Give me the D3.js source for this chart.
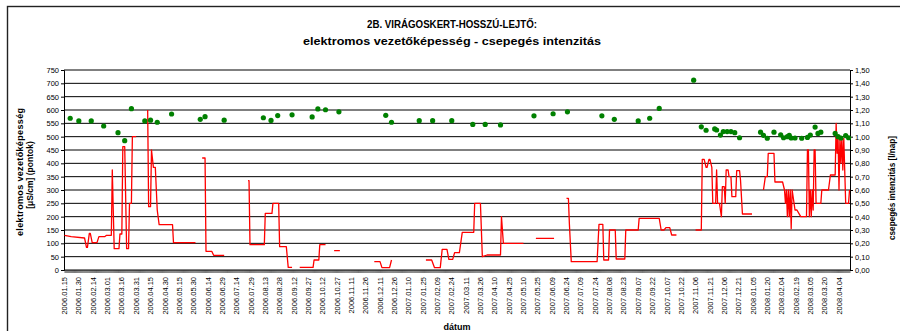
<!DOCTYPE html>
<html>
<head>
<meta charset="utf-8">
<script src="https://cdn.jsdelivr.net/npm/d3@7"></script>
<style>
  body { margin: 0; background: #fff; }
  svg { display: block; font-family: Arial, "Liberation Sans", sans-serif; }
</style>
</head>
<body>
<svg id="chart" width="900" height="331"></svg>
<script>
// ---- text ----
const titleLines = ["2B. VIRÁGOSKERT-HOSSZÚ-LEJTŐ:", "elektromos vezetőképesség - csepegés intenzitás"];
const leftTitleLines = ["elektromos vezetőképesség", "[μS/cm] (pontok)"];
const rightTitle = "csepegés intenzitás [l/nap]";
const xTitle = "dátum";

// ---- axes ----
const axisFirstDay = "2006.01.15";
const axisLastDay = "2008.04.15";
const leftTickValues = [0, 50, 100, 150, 200, 250, 300, 350, 400, 450, 500, 550, 600, 650, 700, 750];
const rightTickValues = [0, 0.1, 0.2, 0.3, 0.4, 0.5, 0.6, 0.7, 0.8, 0.9, 1.0, 1.1, 1.2, 1.3, 1.4, 1.5];
const xTickLabels = [
  "2006.01.15","2006.01.30","2006.02.14","2006.03.01","2006.03.16","2006.03.31","2006.04.15","2006.04.30",
  "2006.05.15","2006.05.30","2006.06.14","2006.06.29","2006.07.14","2006.07.29","2006.08.13","2006.08.28",
  "2006.09.12","2006.09.27","2006.10.12","2006.10.27","2006.11.11","2006.11.26","2006.12.11","2006.12.26",
  "2007.01.10","2007.01.25","2007.02.09","2007.02.24","2007.03.11","2007.03.26","2007.04.10","2007.04.25",
  "2007.05.10","2007.05.25","2007.06.09","2007.06.24","2007.07.09","2007.07.24","2007.08.08","2007.08.23",
  "2007.09.07","2007.09.22","2007.10.07","2007.10.22","2007.11.06","2007.11.21","2007.12.06","2007.12.21",
  "2008.01.05","2008.01.20","2008.02.04","2008.02.19","2008.03.05","2008.03.20","2008.04.04"
];

// ---- electrical conductivity, µS/cm (points, left axis) ----
const conductivityDates = [
  "2006.01.21","2006.01.30","2006.02.12","2006.02.25","2006.03.12","2006.03.19","2006.03.26","2006.04.09","2006.04.15","2006.04.22",
  "2006.05.07","2006.06.06","2006.06.11","2006.07.01","2006.08.11","2006.08.19","2006.08.26","2006.09.10","2006.10.01","2006.10.07",
  "2006.10.15","2006.10.29","2006.12.17","2006.12.23",
  "2007.01.21","2007.02.04","2007.02.24","2007.03.18","2007.03.31","2007.04.16",
  "2007.05.21","2007.06.10","2007.06.25","2007.07.31","2007.08.13","2007.09.07","2007.09.19","2007.09.29",
  "2007.11.04","2007.11.12","2007.11.17","2007.11.26","2007.11.28","2007.12.02","2007.12.05","2007.12.09","2007.12.13","2007.12.17","2007.12.22",
  "2008.01.13","2008.01.16","2008.01.20","2008.01.27",
  "2008.02.03","2008.02.06","2008.02.10","2008.02.12","2008.02.14","2008.02.18","2008.02.25",
  "2008.03.02","2008.03.05","2008.03.10","2008.03.13","2008.03.16","2008.03.31",
  "2008.04.03","2008.04.06","2008.04.11","2008.04.14"
];
const conductivityValues = [
  569, 559, 559, 540, 515, 485, 605, 559, 562, 554,
  585, 565, 575, 562, 571, 561, 579, 582, 574, 604,
  601, 593, 580, 554,
  560, 560, 560, 546, 546, 544,
  578, 586, 593, 578, 565, 559, 569, 606,
  712, 537, 524, 529, 525, 506, 519, 519, 519, 515, 496,
  517, 505, 494, 517,
  507, 496, 500, 505, 495, 495, 494,
  497, 506, 536, 512, 517, 512,
  500, 495, 504, 496
];

// ---- drip intensity, l/day (line, right axis); null = no measurement ----
const dripDates = [
  "2006.01.15","2006.01.22","2006.02.05","2006.02.07","2006.02.08","2006.02.10","2006.02.11","2006.02.13","2006.02.18","2006.02.20",
  "2006.02.26","2006.02.28","2006.03.05","2006.03.06","2006.03.08","2006.03.13","2006.03.14","2006.03.16","2006.03.17","2006.03.19",
  "2006.03.21","2006.03.23","2006.03.24","2006.03.26","2006.03.27","2006.03.31", null,
  "2006.04.12","2006.04.13","2006.04.15","2006.04.16","2006.04.18","2006.04.20","2006.04.22","2006.04.24","2006.05.08","2006.05.09","2006.06.01", null,
  "2006.06.08","2006.06.11","2006.06.12","2006.06.18","2006.06.20","2006.07.01", null,
  "2006.07.26","2006.07.27","2006.07.28","2006.08.12","2006.08.13","2006.08.20","2006.08.21","2006.08.27","2006.08.28","2006.09.04","2006.09.06","2006.09.10", null,
  "2006.09.18","2006.10.02","2006.10.03","2006.10.08","2006.10.09","2006.10.15", null,
  "2006.10.24","2006.10.30", null,
  "2006.12.05","2006.12.11","2006.12.13","2006.12.21","2006.12.23", null,
  "2007.01.28","2007.02.03","2007.02.06","2007.02.12","2007.02.14","2007.02.19","2007.02.21","2007.02.25","2007.02.27","2007.03.04",
  "2007.03.07","2007.03.19","2007.03.20","2007.03.26","2007.03.28","2007.04.02","2007.04.16","2007.04.17","2007.04.19","2007.05.10", null,
  "2007.05.23","2007.06.11", null,
  "2007.06.24","2007.06.26","2007.06.27","2007.06.29","2007.07.26","2007.07.28","2007.08.01","2007.08.02","2007.08.07","2007.08.08",
  "2007.08.14","2007.08.15","2007.08.24","2007.08.25","2007.09.07","2007.09.08","2007.09.29","2007.10.01","2007.10.04","2007.10.06",
  "2007.10.10","2007.10.12","2007.10.17", null,
  "2007.11.06","2007.11.12","2007.11.13","2007.11.15","2007.11.17","2007.11.18","2007.11.20","2007.11.21","2007.11.23","2007.11.24",
  "2007.11.27","2007.11.28","2007.11.29","2007.12.01","2007.12.03","2007.12.04","2007.12.06","2007.12.07","2007.12.08","2007.12.10",
  "2007.12.11","2007.12.13","2007.12.14","2007.12.18","2007.12.19","2007.12.22","2007.12.23","2007.12.25","2008.01.04", null,
  "2008.01.16","2008.01.18","2008.01.20","2008.01.21","2008.01.27","2008.01.28","2008.02.05","2008.02.07","2008.02.08","2008.02.09",
  "2008.02.10","2008.02.11","2008.02.12","2008.02.13","2008.02.14","2008.02.15","2008.02.17","2008.02.18","2008.02.20","2008.02.22",
  "2008.02.24","2008.03.01","2008.03.02","2008.03.03","2008.03.04","2008.03.05","2008.03.06","2008.03.07","2008.03.08","2008.03.09",
  "2008.03.10","2008.03.11","2008.03.16","2008.03.17","2008.03.24","2008.03.26","2008.03.31","2008.04.01","2008.04.02","2008.04.03",
  "2008.04.04","2008.04.05","2008.04.06","2008.04.07","2008.04.08","2008.04.09","2008.04.11","2008.04.14","2008.04.15"
];
const dripValues = [
  0.26, 0.25, 0.24, 0.17, 0.17, 0.275, 0.275, 0.205, 0.205, 0.25,
  0.25, 0.26, 0.26, 0.75, 0.16, 0.16, 0.27, 0.27, 0.925, 0.925,
  0.16, 0.16, 0.5, 0.5, 1.0, 1.0, null,
  1.2, 0.475, 0.475, 0.9, 0.77, 0.77, 0.45, 0.34, 0.34, 0.205, 0.205, null,
  0.84, 0.84, 0.14, 0.14, 0.11, 0.11, null,
  0.67, 0.67, 0.19, 0.19, 0.425, 0.425, 0.5, 0.5, 0.175, 0.175, 0.02, 0.02, null,
  0.02, 0.02, 0.075, 0.075, 0.19, 0.19, null,
  0.145, 0.145, null,
  0.0625, 0.0625, 0.0175, 0.0175, 0.075, null,
  0.075, 0.075, 0.0175, 0.0175, 0.155, 0.155, 0.08, 0.08, 0.13, 0.13,
  0.2825, 0.2825, 0.5, 0.5, 0.10, 0.1125, 0.1125, 0.40, 0.20, 0.20, null,
  0.2375, 0.2375, null,
  0.5375, 0.5375, 0.35, 0.0625, 0.0625, 0.3425, 0.3425, 0.075, 0.075, 0.30,
  0.30, 0.0825, 0.0825, 0.30, 0.30, 0.3875, 0.3875, 0.30, 0.30, 0.3175,
  0.3175, 0.2625, 0.2625, null,
  0.30, 0.30, 0.83, 0.83, 0.77, 0.77, 0.83, 0.83, 0.77, 0.50,
  0.50, 0.75, 0.50, 0.50, 0.40, 0.625, 0.625, 0.50, 0.75, 0.75,
  0.70, 0.70, 0.55, 0.55, 0.745, 0.745, 0.675, 0.42, 0.42, null,
  0.60, 0.70, 0.70, 0.875, 0.875, 0.66, 0.66, 0.60, 0.50, 0.60,
  0.40, 0.60, 0.40, 0.60, 0.31, 0.60, 0.50, 0.45, 0.45, 0.425,
  0.40, 0.40, 0.90, 0.90, 0.40, 0.60, 0.40, 0.60, 0.45, 0.90,
  0.90, 0.50, 0.50, 0.60, 0.60, 0.7125, 0.7125, 1.10, 0.875, 1.0,
  0.60, 1.0, 0.80, 1.0, 0.75, 0.9875, 0.50, 0.50, 0.60
];

// ---- layout ----
const svg = d3.select("#chart");
const plot = { left: 64, right: 850, top: 70, bottom: 270 };
const parseDay = d3.utcParse("%Y.%m.%d");
const commaFormat = d3.formatLocale({ decimal: ",", thousands: " ", grouping: [3], currency: ["", ""] }).format(".2f");

// one category per day; each date sits at the centre of its day slot
const x = d3.scaleUtc()
  .domain([d3.utcHour.offset(parseDay(axisFirstDay), -12), d3.utcHour.offset(parseDay(axisLastDay), 12)])
  .range([plot.left, plot.right]);
const yLeft = d3.scaleLinear().domain([0, 750]).range([plot.bottom, plot.top]);
const yRight = d3.scaleLinear().domain([0, 1.5]).range([plot.bottom, plot.top]);

// outer frame
svg.append("rect")
  .attr("x", 7.5).attr("y", 6.5).attr("width", 910).attr("height", 400)
  .attr("fill", "none").attr("stroke", "#222").attr("stroke-width", 1.4);

// titles (Excel-style spaced lettering)
const titleWidths = [170, 298];
svg.append("g").selectAll("text").data(titleLines).join("text")
  .attr("x", 452).attr("y", (d, i) => 28 + i * 17)
  .attr("text-anchor", "middle").attr("font-weight", "bold").attr("font-size", 10.5)
  .attr("textLength", (d, i) => titleWidths[i]).attr("lengthAdjust", "spacingAndGlyphs")
  .text(d => d);

// horizontal gridlines
svg.append("g").selectAll("line").data(leftTickValues.filter(v => v > 0)).join("line")
  .attr("x1", plot.left).attr("x2", plot.right)
  .attr("y1", d => yLeft(d)).attr("y2", d => yLeft(d))
  .attr("stroke", "#000").attr("stroke-width", 1);

// left axis
const leftAxis = svg.append("g").attr("transform", `translate(${plot.left},0)`)
  .call(d3.axisLeft(yLeft).tickValues(leftTickValues).tickSize(3).tickPadding(2).tickFormat(d3.format("d")));
leftAxis.selectAll("text").attr("font-size", 7.5).attr("fill", "#000");
leftAxis.selectAll("line,path").attr("stroke", "#000");

// right axis
const rightAxis = svg.append("g").attr("transform", `translate(${plot.right},0)`)
  .call(d3.axisRight(yRight).tickValues(rightTickValues).tickSize(3).tickPadding(2).tickFormat(commaFormat));
rightAxis.selectAll("text").attr("font-size", 7.5).attr("fill", "#000");
rightAxis.selectAll("line,path").attr("stroke", "#000");

// bottom axis: a tick between every daily category
const dayEdges = d3.utcDay.range(parseDay(axisFirstDay), d3.utcDay.offset(parseDay(axisLastDay), 1))
  .map(d => d3.utcHour.offset(d, 12));
svg.append("g").selectAll("line").data(dayEdges).join("line")
  .attr("x1", d => x(d)).attr("x2", d => x(d))
  .attr("y1", plot.bottom).attr("y2", plot.bottom + 3)
  .attr("stroke", "#000").attr("stroke-width", 0.5);
svg.append("line")
  .attr("x1", plot.left).attr("x2", plot.right)
  .attr("y1", plot.bottom).attr("y2", plot.bottom)
  .attr("stroke", "#000").attr("stroke-width", 1);

svg.append("g").selectAll("text").data(xTickLabels).join("text")
  .attr("transform", d => `translate(${x(parseDay(d))},277) rotate(-90)`)
  .attr("dy", "0.35em").attr("text-anchor", "end").attr("font-size", 7.5)
  .text(d => d);

// axis titles
svg.append("text")
  .attr("transform", "translate(20,172) rotate(-90)")
  .attr("dy", "0.35em").attr("text-anchor", "middle").attr("font-weight", "bold").attr("font-size", 9)
  .attr("textLength", 128).attr("lengthAdjust", "spacing")
  .text(leftTitleLines[0]);
svg.append("text")
  .attr("transform", "translate(30,175) rotate(-90)")
  .attr("dy", "0.35em").attr("text-anchor", "middle").attr("font-weight", "bold").attr("font-size", 8.5)
  .text(leftTitleLines[1]);
svg.append("text")
  .attr("transform", "translate(892,188) rotate(-90)")
  .attr("dy", "0.35em").attr("text-anchor", "middle").attr("font-weight", "bold").attr("font-size", 9)
  .attr("textLength", 104).attr("lengthAdjust", "spacingAndGlyphs")
  .text(rightTitle);
svg.append("text")
  .attr("x", (plot.left + plot.right) / 2).attr("y", 330)
  .attr("text-anchor", "middle").attr("font-weight", "bold").attr("font-size", 9)
  .text(xTitle);

// drip intensity line
const dripData = dripDates.map((d, i) => ({ date: d ? parseDay(d) : null, value: dripValues[i] }));
svg.append("path")
  .datum(dripData)
  .attr("fill", "none").attr("stroke", "#ff0000").attr("stroke-width", 1.3).attr("stroke-linejoin", "round")
  .attr("d", d3.line()
    .defined(d => d.date !== null && d.value !== null)
    .x(d => x(d.date)).y(d => yRight(d.value)));

// conductivity points
svg.append("g").selectAll("circle").data(conductivityDates).join("circle")
  .attr("cx", d => x(parseDay(d)))
  .attr("cy", (d, i) => yLeft(conductivityValues[i]))
  .attr("r", 2.6).attr("fill", "#008000");
</script>
</body>
</html>
